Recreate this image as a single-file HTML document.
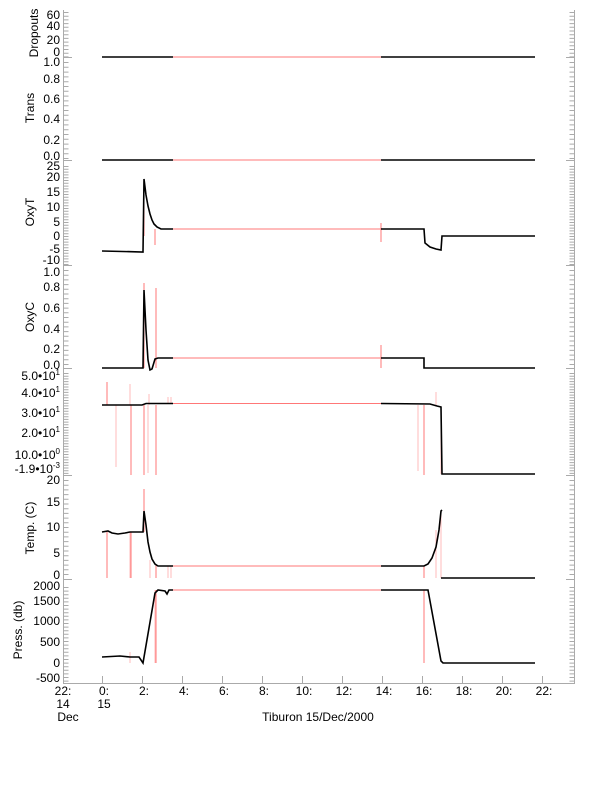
<!DOCTYPE html>
<html><head><meta charset="utf-8"><style>
body{margin:0;background:#fff;width:612px;height:785px;overflow:hidden}
svg{display:block}
text{font-family:"Liberation Sans",sans-serif;font-size:12px;fill:#000}
.ax{stroke:#aaa;stroke-width:1;fill:none}
.d{stroke:#000;stroke-width:1.6;fill:none}
.r{stroke:#f77;stroke-width:1;fill:none}
.p{stroke:#fbb;stroke-width:1;fill:none}
</style></head><body>
<svg width="612" height="785" viewBox="0 0 612 785">
<g class="ax">
<line x1="63.5" y1="10" x2="63.5" y2="683"/>
<line x1="574.5" y1="10" x2="574.5" y2="683"/>
<line x1="63" y1="683.5" x2="575" y2="683.5"/>
<line x1="63" y1="57.5" x2="72" y2="57.5"/><line x1="566" y1="57.5" x2="575" y2="57.5"/>
<line x1="63" y1="160.5" x2="72" y2="160.5"/><line x1="566" y1="160.5" x2="575" y2="160.5"/>
<line x1="63" y1="265.5" x2="72" y2="265.5"/><line x1="566" y1="265.5" x2="575" y2="265.5"/>
<line x1="63" y1="368.5" x2="72" y2="368.5"/><line x1="566" y1="368.5" x2="575" y2="368.5"/>
<line x1="63" y1="475.5" x2="72" y2="475.5"/><line x1="566" y1="475.5" x2="575" y2="475.5"/>
<line x1="63" y1="579.5" x2="72" y2="579.5"/><line x1="566" y1="579.5" x2="575" y2="579.5"/>
</g>
<g stroke="#aaa" stroke-width="5">
<line x1="66" y1="12" x2="66" y2="57" stroke-dasharray="1 2.7"/>
<line x1="572" y1="12" x2="572" y2="57" stroke-dasharray="1 2.7"/>
<line x1="66" y1="62" x2="66" y2="160" stroke-dasharray="1 3.8"/>
<line x1="572" y1="62" x2="572" y2="160" stroke-dasharray="1 3.8"/>
<line x1="66" y1="166" x2="66" y2="265" stroke-dasharray="1 1.8"/>
<line x1="572" y1="166" x2="572" y2="265" stroke-dasharray="1 1.8"/>
<line x1="66" y1="270" x2="66" y2="368" stroke-dasharray="1 3.7"/>
<line x1="572" y1="270" x2="572" y2="368" stroke-dasharray="1 3.7"/>
<line x1="66" y1="373" x2="66" y2="475" stroke-dasharray="1 1.7"/>
<line x1="572" y1="373" x2="572" y2="475" stroke-dasharray="1 1.7"/>
<line x1="66" y1="480" x2="66" y2="578" stroke-dasharray="1 3.7"/>
<line x1="572" y1="480" x2="572" y2="578" stroke-dasharray="1 3.7"/>
<line x1="66" y1="587" x2="66" y2="683" stroke-dasharray="1 2.6"/>
<line x1="572" y1="587" x2="572" y2="683" stroke-dasharray="1 2.6"/>
</g>
<g class="ax">
<line x1="102.5" y1="683" x2="102.5" y2="676"/><line x1="142.5" y1="683" x2="142.5" y2="676"/>
<line x1="182.5" y1="683" x2="182.5" y2="676"/><line x1="222.5" y1="683" x2="222.5" y2="676"/>
<line x1="262.5" y1="683" x2="262.5" y2="676"/><line x1="302.5" y1="683" x2="302.5" y2="676"/>
<line x1="342.5" y1="683" x2="342.5" y2="676"/><line x1="382.5" y1="683" x2="382.5" y2="676"/>
<line x1="422.5" y1="683" x2="422.5" y2="676"/><line x1="462.5" y1="683" x2="462.5" y2="676"/>
<line x1="502.5" y1="683" x2="502.5" y2="676"/><line x1="542.5" y1="683" x2="542.5" y2="676"/>
</g>
<g text-anchor="end">
<text x="60" y="19">60</text><text x="60" y="30">40</text><text x="60" y="44">20</text><text x="60" y="56">0</text>
<text x="60" y="66">1.0</text><text x="60" y="83">0.8</text><text x="60" y="103">0.6</text><text x="60" y="123">0.4</text><text x="60" y="144">0.2</text><text x="60" y="160">0.0</text>
<text x="60" y="170">25</text><text x="60" y="181">20</text><text x="60" y="196">15</text><text x="60" y="211">10</text><text x="60" y="226">5</text><text x="60" y="240">0</text><text x="60" y="253">-5</text><text x="60" y="264">-10</text>
<text x="60" y="276">1.0</text><text x="60" y="291">0.8</text><text x="60" y="312">0.6</text><text x="60" y="333">0.4</text><text x="60" y="353">0.2</text><text x="60" y="369">0.0</text>
<text x="60" y="380">5.0•10<tspan font-size="8" dy="-5">1</tspan></text>
<text x="60" y="397">4.0•10<tspan font-size="8" dy="-5">1</tspan></text>
<text x="60" y="417">3.0•10<tspan font-size="8" dy="-5">1</tspan></text>
<text x="60" y="437">2.0•10<tspan font-size="8" dy="-5">1</tspan></text>
<text x="60" y="459">10.0•10<tspan font-size="8" dy="-5">0</tspan></text>
<text x="60" y="473">-1.9•10<tspan font-size="8" dy="-5">-3</tspan></text>
<text x="60" y="484">20</text><text x="60" y="506">15</text><text x="60" y="531">10</text><text x="60" y="557">5</text><text x="60" y="579">0</text>
<text x="60" y="590">2000</text><text x="60" y="605">1500</text><text x="60" y="625">1000</text><text x="60" y="646">500</text><text x="60" y="667">0</text><text x="60" y="682">-500</text>
</g>
<g text-anchor="middle">
<text transform="translate(38,33) rotate(-90)">Dropouts</text>
<text transform="translate(34,108) rotate(-90)">Trans</text>
<text transform="translate(34,212) rotate(-90)">OxyT</text>
<text transform="translate(34,317) rotate(-90)">OxyC</text>
<text transform="translate(34,528) rotate(-90)">Temp. (C)</text>
<text transform="translate(22,630) rotate(-90)">Press. (db)</text>
</g>
<g text-anchor="middle">
<text x="63" y="695">22:</text><text x="63" y="708">14</text><text x="68" y="721">Dec</text>
<text x="104" y="695">0:</text><text x="104" y="708">15</text>
<text x="144" y="695">2:</text><text x="184" y="695">4:</text><text x="224" y="695">6:</text><text x="264" y="695">8:</text>
<text x="304" y="695">10:</text><text x="344" y="695">12:</text><text x="384" y="695">14:</text><text x="424" y="695">16:</text>
<text x="464" y="695">18:</text><text x="504" y="695">20:</text><text x="544" y="695">22:</text>
<text x="318" y="721">Tiburon 15/Dec/2000</text>
</g>
<g class="r">
<line x1="144" y1="236" x2="144" y2="180"/><line x1="155" y1="229" x2="155" y2="245"/><line x1="381" y1="223" x2="381" y2="242"/>
<line x1="144" y1="368" x2="144" y2="283"/><line x1="156" y1="368" x2="156" y2="288"/><line x1="381" y1="368" x2="381" y2="345"/>
<line x1="107" y1="405" x2="107" y2="382"/><line x1="131" y1="405" x2="131" y2="475"/><line x1="144" y1="405" x2="144" y2="475"/><line x1="156" y1="405" x2="156" y2="475"/><line x1="424" y1="405" x2="424" y2="475"/>
<line x1="144" y1="532" x2="144" y2="489"/><line x1="107" y1="532" x2="107" y2="578"/><line x1="131" y1="532" x2="131" y2="578"/><line x1="156" y1="565" x2="156" y2="578"/><line x1="424" y1="566" x2="424" y2="578"/>
<line x1="156" y1="590" x2="156" y2="663"/><line x1="424" y1="590" x2="424" y2="663"/>
</g>
<g class="p">
<line x1="116" y1="405" x2="116" y2="467"/><line x1="130" y1="405" x2="130" y2="384"/><line x1="148" y1="405" x2="148" y2="473"/><line x1="149" y1="405" x2="149" y2="394"/><line x1="168" y1="404" x2="168" y2="397"/><line x1="171" y1="404" x2="171" y2="397"/>
<line x1="418" y1="405" x2="418" y2="471"/><line x1="436" y1="405" x2="436" y2="392"/><line x1="441" y1="407" x2="441" y2="474"/>
<line x1="130" y1="532" x2="130" y2="578"/><line x1="150" y1="560" x2="150" y2="578"/><line x1="168" y1="566" x2="168" y2="578"/><line x1="171" y1="566" x2="171" y2="578"/><line x1="436" y1="530" x2="436" y2="578"/><line x1="441" y1="511" x2="441" y2="578"/>
<line x1="130" y1="652" x2="130" y2="663"/><line x1="155" y1="590" x2="155" y2="663"/>
</g>
<g class="r">
<line x1="173" y1="57" x2="381" y2="57"/>
<line x1="173" y1="160" x2="381" y2="160"/>
<line x1="173" y1="229" x2="381" y2="229"/>
<line x1="173" y1="358" x2="381" y2="358"/>
<line x1="173" y1="403.5" x2="381" y2="403.5"/>
<line x1="173" y1="566" x2="381" y2="566"/>
<line x1="173" y1="590" x2="381" y2="590"/>
</g>
<g class="d">
<polyline points="102,57 173,57"/><polyline points="381,57 535,57"/>
<polyline points="102,160 173,160"/><polyline points="381,160 535,160"/>
<polyline points="102,251 143,252 144,179 146,195 148,206 150,214 152,220 154,224 157,227 161,229 173,229"/>
<polyline points="381,229 424,229 425,243 430,247 436,249 441,250 442,236 535,236"/>
<polyline points="102,368 143,368 144,290 146,330 148,360 150,370 152,369 155,359 158,358 173,358"/>
<polyline points="381,358 424,358 424,368 535,368"/>
<polyline points="102,405 142,405 146,403.5 173,403.5"/>
<polyline points="381,403.5 430,404 437,406 441,407 442,474 535,474"/>
<polyline points="102,532 108,531 112,533 118,534 125,533 130,532 132,532 143,532 144,511 146,525 148,542 150,552 152,559 155,564 158,566 173,566"/>
<polyline points="381,566 424,566 428,564 432,558 436,547 439,530 441,511 442,510"/>
<polyline points="441,578 535,578"/>
<polyline points="102,657 120,656 130,657 139,657 143,663 155,593 158,590 165,591 167,594 169,590 173,590"/>
<polyline points="381,590 428,590 441,661 443,663 535,663"/>
</g>
</svg>
</body></html>
